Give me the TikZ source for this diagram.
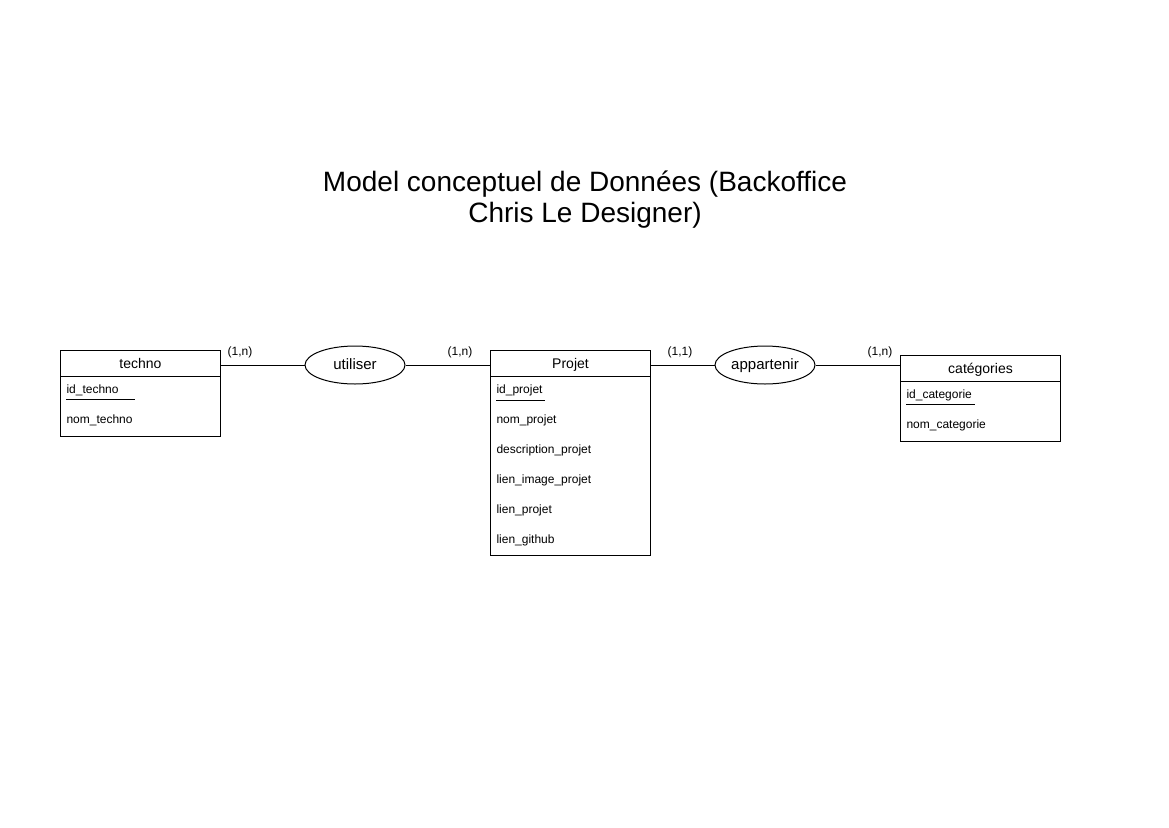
\documentclass[tikz,border=0pt]{standalone}
\usepackage{fontspec}
\setmainfont{Liberation Sans}
\usetikzlibrary{shapes.geometric,positioning}
\tikzset{
  entite/.style = {rectangle, draw=black, minimum width=160pt, inner sep=0pt,
    anchor=north west},% corps de l'entite
  entete/.style = {entite, minimum height=26pt, text height=1.2em,
    text depth=0.18em, font=\fontsize{14}{16}\selectfont},% nom de l'entite
  attribut/.style = {anchor=base west, inner sep=0pt,
    font=\fontsize{12}{14}\selectfont},
  assoc/.style = {ellipse, draw=black, minimum width=100pt, minimum height=38pt,
    inner sep=0pt, text height=1.0em, text depth=0.15em,
    font=\fontsize{15}{17}\selectfont},% association
  card/.style = {inner sep=0pt, font=\fontsize{12}{14}\selectfont}
}
\begin{document}
\begin{tikzpicture}[x=1pt,y=-1pt,line width=1pt]
\useasboundingbox (0,0) rectangle (1169,827);
\node [align=center, font=\fontsize{28}{31}\selectfont] (titre) at (585,200)
  {Model conceptuel de Données (Backoffice\\Chris Le Designer)};
% entites
\node [entite, minimum height=86pt] (techno) at (60,350) {};
\node [entete] (technoT) at (60,350) {techno};
\node [attribut] (idtechno) at (66,393) {id\_techno};
\node [attribut] (nomtechno) at (66,423) {nom\_techno};
\draw [line width=0.8pt] (66,399) -- (135,399);
\node [entite, minimum height=205pt] (projet) at (490,350) {};
\node [entete] (projetT) at (490,350) {Projet};
\node [attribut] (idprojet) at (496,393) {id\_projet};
\node [attribut] (nomprojet) at (496,423) {nom\_projet};
\node [attribut] (descprojet) at (496,453) {description\_projet};
\node [attribut] (imgprojet) at (496,483) {lien\_image\_projet};
\node [attribut] (lienprojet) at (496,513) {lien\_projet};
\node [attribut] (github) at (496,543) {lien\_github};
\draw [line width=0.8pt] (496,400) -- (545,400);
\node [entite, minimum height=86pt] (categ) at (900,355) {};
\node [entete] (categT) at (900,355) {catégories};
\node [attribut] (idcateg) at (906,398) {id\_categorie};
\node [attribut] (nomcateg) at (906,428) {nom\_categorie};
\draw [line width=0.8pt] (906,404) -- (975,404);
% associations
\node [assoc] (utiliser) at (355,365) {utiliser};
\node [assoc] (appartenir) at (765,365) {appartenir};
\draw (technoT.east |- utiliser.west) -- (utiliser.west);
\draw (utiliser.east) -- (projetT.west |- utiliser.east);
\draw (projetT.east |- appartenir.west) -- (appartenir.west);
\draw (appartenir.east) -- (categT.west |- appartenir.east);
% cardinalites
\node [card] (c1) at (240,352) {(1,n)};
\node [card] (c2) at (460,352) {(1,n)};
\node [card] (c3) at (680,352) {(1,1)};
\node [card] (c4) at (880,352) {(1,n)};
\end{tikzpicture}
\end{document}
